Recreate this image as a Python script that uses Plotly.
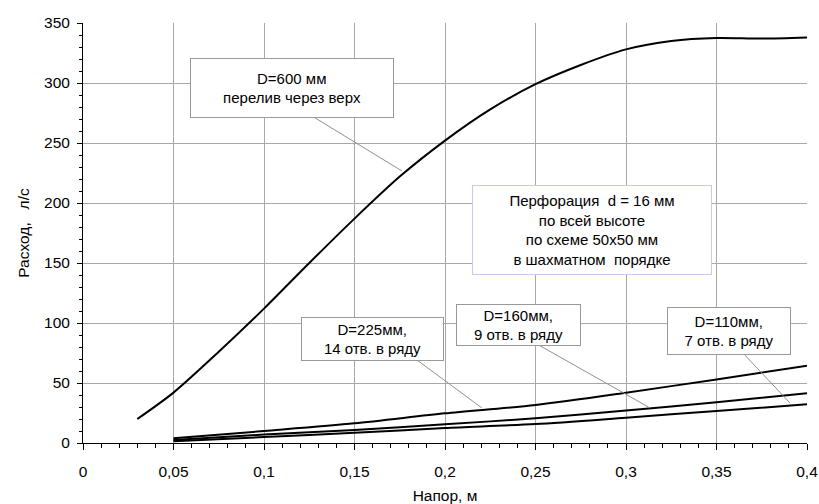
import plotly.graph_objects as go

# Data
x600 = [0.03, 0.05, 0.075, 0.1, 0.125, 0.15, 0.175, 0.2, 0.225, 0.25, 0.275, 0.3, 0.325, 0.35, 0.375, 0.4]
y600 = [20, 42, 76, 112, 150, 187, 222, 252, 278, 299, 315, 328, 335, 337.5, 337, 338]

x_small = [0.05, 0.1, 0.15, 0.2, 0.25, 0.3, 0.35, 0.4]
y225 = [3.9, 10, 16.4, 24.7, 31.7, 41.9, 53, 64.4]
y160 = [2.5, 7, 10.8, 15.6, 20.6, 27, 33.9, 41.4]
y110 = [1.4, 5, 8.5, 12.5, 15.8, 21.1, 26.7, 32.2]

x_ticks = [0, 0.05, 0.1, 0.15, 0.2, 0.25, 0.3, 0.35, 0.4]
y_ticks = [0, 50, 100, 150, 200, 250, 300, 350]

fig = go.Figure()
for xs, ys in [(x600, y600), (x_small, y225), (x_small, y160), (x_small, y110)]:
    fig.add_trace(go.Scatter(x=xs, y=ys, mode="lines",
                             line=dict(color="black", width=2, shape="spline", smoothing=0.8),
                             showlegend=False, hoverinfo="skip"))

# Leader lines (data coords)
leaders = [
    ((0.1265, 272.5), (0.1762, 226.7)),
    ((0.1845, 69.2), (0.2204, 29.2)),
    ((0.2508, 82.5), (0.3133, 29.2)),
    ((0.3646, 75.0), (0.3906, 33.3)),
]
for (x0, y0), (x1, y1) in leaders:
    fig.add_shape(type="line", x0=x0, y0=y0, x1=x1, y1=y1, xref="x", yref="y",
                  line=dict(color="#909090", width=1))

font = dict(family="Arial, Liberation Sans, sans-serif", size=15, color="black")
boxes = [
    (0.1155, 296, "D=600 мм<br>перелив через верх", "#999999", 200, 56),
    (0.2812, 177.5, "Перфорация  d = 16 мм<br>по всей высоте<br>по схеме 50x50 мм<br>в шахматном  порядке", "#c8c8f0", 236, 86),
    (0.16, 87, "D=225мм,<br>14 отв. в ряду", "#999999", 139, 40),
    (0.2406, 98.75, "D=160мм,<br>9 отв. в ряду", "#999999", 121, 38),
    (0.3569, 93.75, "D=110мм,<br>7 отв. в ряду", "#999999", 120, 44),
]
for x, y, t, bc, w, h in boxes:
    fig.add_annotation(x=x, y=y, xref="x", yref="y", text=t, showarrow=False,
                       font=font, bgcolor="white", bordercolor=bc, borderwidth=1,
                       width=w, height=h, align="center", valign="middle")

axfont = dict(family="Arial, Liberation Sans, sans-serif", size=15.5, color="black")
fig.update_layout(
    width=819, height=504,
    margin=dict(l=83, r=12, t=23, b=61),
    paper_bgcolor="white", plot_bgcolor="white",
    separators=", ",
    xaxis=dict(range=[0, 0.4], tickvals=x_ticks, showgrid=True, gridcolor="#a8a8a8", gridwidth=1,
               zeroline=False, showline=True, linecolor="black", linewidth=1, automargin=False,
               ticks="outside", ticklen=6, tickcolor="black", tickfont=axfont, ticklabelstandoff=8,
               minor=dict(dtick=0.01, ticks="outside", ticklen=4, tickcolor="black", showgrid=False),
               title=dict(text="Напор, м", font=axfont, standoff=12)),
    yaxis=dict(range=[0, 350], tickvals=y_ticks, showgrid=True, gridcolor="#a8a8a8", gridwidth=1,
               zeroline=False, showline=True, linecolor="black", linewidth=1, automargin=False,
               ticks="outside", ticklen=5, tickcolor="black", tickfont=axfont, ticklabelstandoff=4,
               minor=dict(dtick=10, ticks="outside", ticklen=3, tickcolor="black", showgrid=False),
               title=dict(text="Расход,   л/с", font=axfont, standoff=10)),
)

fig.write_html("out.html", config={"displayModeBar": False},
               post_script="document.body.style.margin='0';document.body.style.overflow='hidden';")
